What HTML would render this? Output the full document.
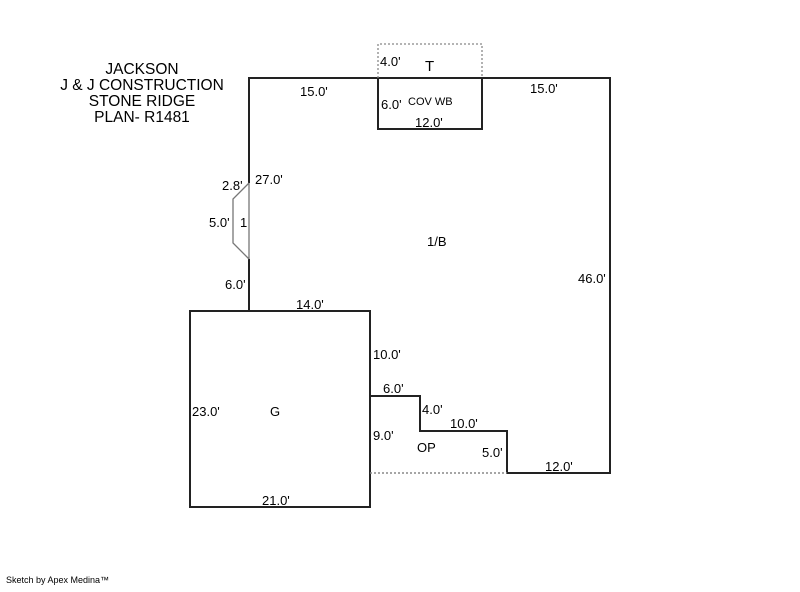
<!DOCTYPE html>
<html><head><style>
body{margin:0;background:#fff;width:800px;height:587px;overflow:hidden}
svg text{font-family:"Liberation Sans",sans-serif;font-size:13px;fill:#000}
</style></head><body>
<svg width="800" height="587" xmlns="http://www.w3.org/2000/svg">
<g fill="none" stroke="#222" stroke-width="2">
<path d="M249 311 V259 M249 183 V78 H610 V473 H507 V431 H420 V396 H370"/>
<rect x="190" y="311" width="180" height="196"/>
<rect x="378" y="78" width="104" height="51"/>
</g>
<path d="M249 183 V259 M249 183 L233 199 V243 L249 259" fill="none" stroke="#777" stroke-width="1.3"/>
<path d="M378 78 V44 H482 V78" fill="none" stroke="#888" stroke-width="1.3" stroke-dasharray="2,2"/>
<path d="M370 473 H507" fill="none" stroke="#888" stroke-width="1.5" stroke-dasharray="2,2"/>
<g text-anchor="middle" style="font-size:15.5px">
<text x="142" y="74" style="font-size:15.5px">JACKSON</text>
<text x="142" y="90" style="font-size:15.5px">J &amp; J CONSTRUCTION</text>
<text x="142" y="106" style="font-size:15.5px">STONE RIDGE</text>
<text x="142" y="122" style="font-size:15.5px">PLAN- R1481</text>
</g>
<text x="425" y="71" style="font-size:15px">T</text>
<text x="380" y="66">4.0'</text>
<text x="300" y="96">15.0'</text>
<text x="530" y="93">15.0'</text>
<text x="381" y="109">6.0'</text>
<text x="408" y="105" style="font-size:11px">COV WB</text>
<text x="415" y="127">12.0'</text>
<text x="222" y="190">2.8'</text>
<text x="255" y="184">27.0'</text>
<text x="209" y="227">5.0'</text>
<text x="240" y="227">1</text>
<text x="427" y="246">1/B</text>
<text x="578" y="283">46.0'</text>
<text x="225" y="289">6.0'</text>
<text x="296" y="309">14.0'</text>
<text x="373" y="359">10.0'</text>
<text x="383" y="393">6.0'</text>
<text x="192" y="416">23.0'</text>
<text x="270" y="416">G</text>
<text x="422" y="414">4.0'</text>
<text x="450" y="428">10.0'</text>
<text x="373" y="440">9.0'</text>
<text x="417" y="452">OP</text>
<text x="482" y="457">5.0'</text>
<text x="545" y="471">12.0'</text>
<text x="262" y="505">21.0'</text>
<text x="6" y="583" style="font-size:9px">Sketch by Apex Medina™</text>
</svg>
</body></html>
